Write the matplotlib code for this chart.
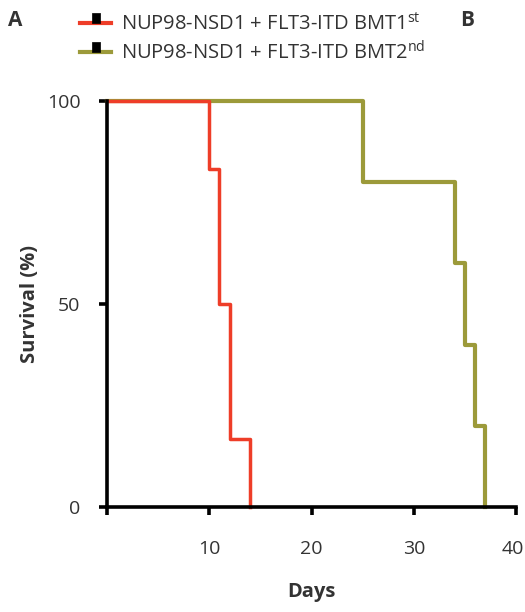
import matplotlib
matplotlib.use("Agg")
import matplotlib.pyplot as plt
from matplotlib.lines import Line2D
from matplotlib.transforms import ScaledTranslation

plt.rcParams['font.family'] = ['Open Sans', 'DejaVu Sans']
plt.rcParams['mathtext.fontset'] = 'custom'
plt.rcParams['mathtext.rm'] = 'Open Sans'

# Data
days_bmt1 = [0, 10, 11, 12, 14]
surv_bmt1 = [100, 83.3, 50, 16.7, 0]
days_bmt2 = [0, 25, 34, 35, 36, 37]
surv_bmt2 = [100, 80, 60, 40, 20, 0]
labels = ["NUP98-NSD1 + FLT3-ITD BMT1$^{\\mathrm{st}}$",
          "NUP98-NSD1 + FLT3-ITD BMT2$^{\\mathrm{nd}}$"]
xticks = [0, 10, 20, 30, 40]
xticklabels = ["", "10", "20", "30", "40"]
yticks = [0, 50, 100]

red = '#EE3D28'
olive = '#9C9A3A'
txt = '#333333'

fig = plt.figure(figsize=(5.25, 6.12), dpi=100)
ax = fig.add_axes([107/525, 1-507/612, (516-107)/525, (507-101)/612])

ax.step(days_bmt2, surv_bmt2, where='post', color=olive, lw=3.0, clip_on=False, zorder=2)
ax.step(days_bmt1, surv_bmt1, where='post', color=red, lw=2.5, clip_on=False, zorder=3)

ax.set_xlim(0, 40)
ax.set_ylim(0, 100)
for s in ['top', 'right']:
    ax.spines[s].set_visible(False)
for s in ['left', 'bottom']:
    ax.spines[s].set_linewidth(2.6)
    ax.spines[s].set_zorder(4)
ax.set_xticks(xticks)
ax.set_xticklabels(xticklabels)
ax.set_yticks(yticks)
ax.tick_params(axis='both', direction='out', length=6, width=2.6, labelsize=14, colors='black')
ax.tick_params(axis='x', pad=18)
ax.tick_params(axis='y', pad=13)
for t in ax.get_xticklabels() + ax.get_yticklabels():
    t.set_color(txt)
last = ax.get_xticklabels()[-1]
last.set_transform(last.get_transform() + ScaledTranslation(-3/100, 0, fig.dpi_scale_trans))

ax.set_xlabel("Days", fontsize=14.5, fontweight='bold', color=txt, labelpad=17)
ax.set_ylabel("Survival (%)", fontsize=14.5, fontweight='bold', color=txt, labelpad=5)

flag = [(-0.35, 0), (0.35, 0), (0.35, 1), (-0.35, 1), (-0.35, 0)]
handles = [Line2D([0], [0], color=red, lw=3, marker=flag, markersize=15, mew=0.5,
                  mec='black', mfc='black'),
           Line2D([0], [0], color=olive, lw=3, marker=flag, markersize=15, mew=0.5,
                  mec='black', mfc='black')]
fig.legend(handles, labels, loc='upper left', bbox_to_anchor=(80/525, 1-13/612),
           frameon=False, fontsize=14.5, handlelength=1.55, handletextpad=0.5,
           labelspacing=0.3, labelcolor=txt, borderpad=0, borderaxespad=0)

fig.text(8/525, 1-21/612, "A", fontsize=15, fontweight='bold', color=txt, va='center')
fig.text(460/525, 1-21/612, "B", fontsize=15, fontweight='bold', color=txt, va='center')

fig.savefig("out.png", dpi=100)
